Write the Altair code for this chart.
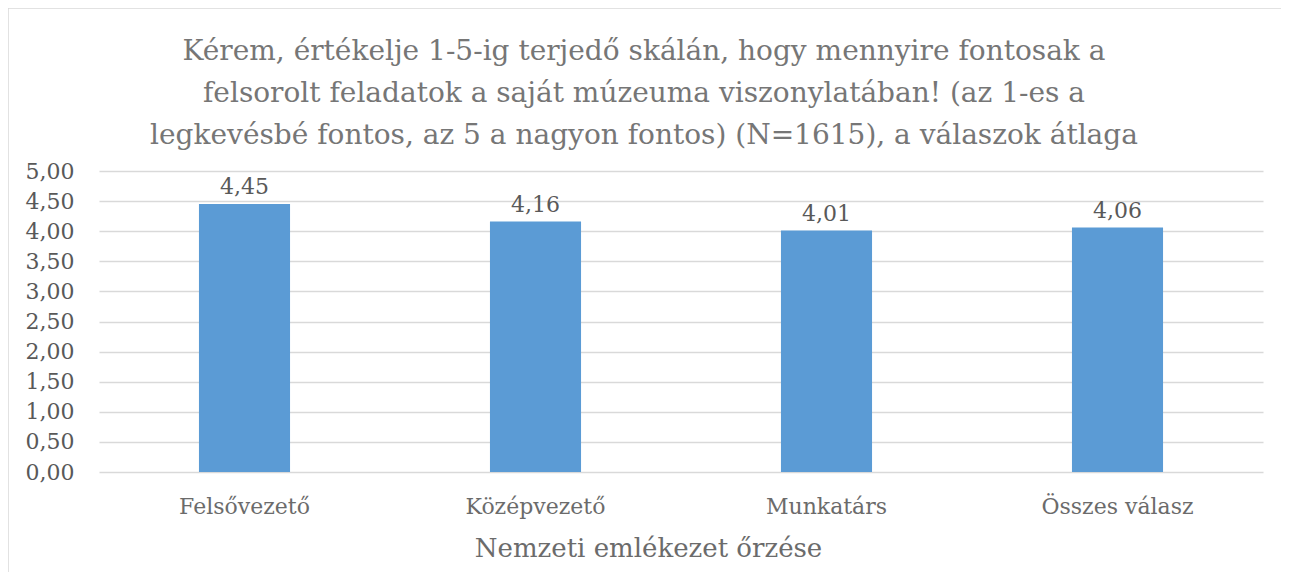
import altair as alt
import pandas as pd

categories = ["Felsővezető", "Középvezető", "Munkatárs", "Összes válasz"]
values = [4.45, 4.16, 4.01, 4.06]
title_lines = [
    "Kérem, értékelje 1-5-ig terjedő skálán, hogy mennyire fontosak a",
    "felsorolt feladatok a saját múzeuma viszonylatában! (az 1-es a",
    "legkevésbé fontos, az 5 a nagyon fontos) (N=1615), a válaszok átlaga",
]
x_title = "Nemzeti emlékezet őrzése"

FONT = "DejaVu Serif"
df = pd.DataFrame({"cat": categories, "val": values})

base = alt.Chart(df).encode(
    x=alt.X(
        "cat:N",
        sort=categories,
        scale=alt.Scale(paddingInner=0.687, paddingOuter=0.3435),
        axis=alt.Axis(
            title=x_title,
            labelAngle=0,
            domain=False,
            ticks=False,
            labelPadding=24,
            labelFontSize=22,
            labelColor="#6b6b6b",
            labelFont=FONT,
            titleFont=FONT,
            titleFontSize=26,
            titleFontWeight="normal",
            titleColor="#6b6b6b",
            titleX=549,
            titleY=76,
            titleBaseline="middle",
            titleAnchor="start",
            titleAlign="center",
        ),
    ),
    y=alt.Y(
        "val:Q",
        scale=alt.Scale(domain=[0, 5]),
        axis=alt.Axis(
            title=None,
            values=[0, 0.5, 1, 1.5, 2, 2.5, 3, 3.5, 4, 4.5, 5],
            labelExpr="replace(format(datum.value, '.2f'), '.', ',')",
            domain=False,
            ticks=False,
            labelPadding=25,
            labelFontSize=22,
            labelColor="#595959",
            labelFont=FONT,
            gridColor="#d9d9d9",
            gridWidth=1.5,
        ),
    ),
)

bars = base.mark_bar(color="#5b9bd5")
labels = base.transform_calculate(
    lbl="replace(format(datum.val, '.2f'), '.', ',')"
).mark_text(
    dy=-17, baseline="middle", fontSize=22, font=FONT, color="#595959"
).encode(text="lbl:N")

border_df = pd.DataFrame({"a": [0]})
left_border = alt.Chart(border_df).mark_rule(color="#d9d9d9", strokeWidth=1.5).encode(
    x=alt.value(-91), y=alt.value(-163), y2=alt.value(420)
)
top_border = alt.Chart(border_df).mark_rule(color="#d9d9d9", strokeWidth=1.5).encode(
    x=alt.value(-91), x2=alt.value(1200), y=alt.value(-163)
)

chart = alt.layer(left_border, top_border, bars, labels).properties(
    width=1164,
    height=301,
    autosize=alt.AutoSizeParams(type="none"),
    padding={"left": 91, "top": 163, "right": 18, "bottom": 100},
    title=alt.TitleParams(
        text=title_lines,
        font=FONT,
        fontSize=28,
        fontWeight="normal",
        color="#767676",
        lineHeight=42,
        anchor="middle",
        baseline="alphabetic",
        dx=-37,
        dy=165,
        offset=0,
    ),
).configure(background="white").configure_view(stroke=None)

chart.save("out.html", embed_options={"renderer": "svg", "actions": False})
